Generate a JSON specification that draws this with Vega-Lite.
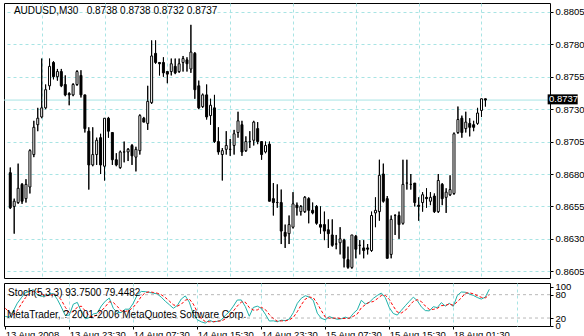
{
"$schema": "https://vega.github.io/schema/vega-lite/v6.json",
"padding": {"left": 2, "top": 2, "right": 0, "bottom": 0},
"autosize": {"type": "pad"},
"background": "white",
"spacing": 2,
"config": {"view": {"stroke": "black", "strokeWidth": 1}, "font": "Liberation Sans", "axis": {"labelFont": "Liberation Sans", "labelFontSize": 9.5, "labelColor": "black", "tickColor": "black", "labelOverlap": false}},
"data": {"values": [
{"i":0,"o":0.8681,"h":0.8685,"l":0.8653,"c":0.8654,"s":24,"g":45},
{"i":1,"o":0.8655,"h":0.8661,"l":0.8634,"c":0.8659,"s":22,"g":35},
{"i":2,"o":0.8658,"h":0.8688,"l":0.8657,"c":0.8669,"s":38,"g":28},
{"i":3,"o":0.8672,"h":0.8673,"l":0.8657,"c":0.8659,"s":58,"g":39.3},
{"i":4,"o":0.8661,"h":0.8676,"l":0.8658,"c":0.8672,"s":72,"g":56},
{"i":5,"o":0.8670,"h":0.8699,"l":0.8665,"c":0.8698,"s":85,"g":71.7},
{"i":6,"o":0.8695,"h":0.8721,"l":0.8693,"c":0.8716,"s":88,"g":81.7},
{"i":7,"o":0.8718,"h":0.8731,"l":0.8713,"c":0.8723,"s":93.1,"g":88.7},
{"i":8,"o":0.8724,"h":0.8769,"l":0.8723,"c":0.8731,"s":79.5,"g":86.9},
{"i":9,"o":0.8731,"h":0.8749,"l":0.8730,"c":0.8745,"s":75.8,"g":82.8},
{"i":10,"o":0.8748,"h":0.8769,"l":0.8745,"c":0.8763,"s":76.6,"g":77.3},
{"i":11,"o":0.8766,"h":0.8767,"l":0.8753,"c":0.8755,"s":81.4,"g":77.9},
{"i":12,"o":0.8755,"h":0.8761,"l":0.8752,"c":0.8759,"s":83.1,"g":80.4},
{"i":13,"o":0.8759,"h":0.8761,"l":0.8747,"c":0.8748,"s":68.1,"g":77.5},
{"i":14,"o":0.8749,"h":0.8756,"l":0.8740,"c":0.8741,"s":48.2,"g":66.5},
{"i":15,"o":0.8742,"h":0.8743,"l":0.8733,"c":0.8741,"s":26.5,"g":47.6},
{"i":16,"o":0.8741,"h":0.8750,"l":0.8740,"c":0.8749,"s":27.5,"g":34.1},
{"i":17,"o":0.8749,"h":0.8760,"l":0.8748,"c":0.8759,"s":55.6,"g":36.5},
{"i":18,"o":0.8756,"h":0.8760,"l":0.8739,"c":0.8741,"s":60.2,"g":47.8},
{"i":19,"o":0.8741,"h":0.8741,"l":0.8712,"c":0.8715,"s":35.9,"g":50.6},
{"i":20,"o":0.8713,"h":0.8716,"l":0.8668,"c":0.8687,"s":18,"g":38},
{"i":21,"o":0.8687,"h":0.8716,"l":0.8686,"c":0.8695,"s":21.1,"g":25},
{"i":22,"o":0.8695,"h":0.8708,"l":0.8687,"c":0.8706,"s":30.4,"g":23.2},
{"i":23,"o":0.8708,"h":0.8711,"l":0.8680,"c":0.8687,"s":32.7,"g":28.1},
{"i":24,"o":0.8686,"h":0.8723,"l":0.8675,"c":0.8723,"s":50.9,"g":38},
{"i":25,"o":0.8723,"h":0.8724,"l":0.8708,"c":0.8713,"s":63.3,"g":49},
{"i":26,"o":0.8712,"h":0.8712,"l":0.8687,"c":0.8691,"s":71.2,"g":61.8},
{"i":27,"o":0.8691,"h":0.8696,"l":0.8686,"c":0.8687,"s":44.9,"g":59.8},
{"i":28,"o":0.8685,"h":0.8698,"l":0.8684,"c":0.8697,"s":34,"g":50},
{"i":29,"o":0.8697,"h":0.8705,"l":0.8689,"c":0.8697,"s":34.1,"g":37.7},
{"i":30,"o":0.8697,"h":0.8700,"l":0.8690,"c":0.8699,"s":42.7,"g":36.9},
{"i":31,"o":0.8702,"h":0.8703,"l":0.8687,"c":0.8694,"s":42.7,"g":39.8},
{"i":32,"o":0.8693,"h":0.8701,"l":0.8682,"c":0.8699,"s":58.3,"g":47.9},
{"i":33,"o":0.8698,"h":0.8726,"l":0.8695,"c":0.8725,"s":79.5,"g":60.2},
{"i":34,"o":0.8723,"h":0.8724,"l":0.8720,"c":0.8720,"s":88.3,"g":75.4},
{"i":35,"o":0.8719,"h":0.8748,"l":0.8714,"c":0.8736,"s":87.7,"g":85.2},
{"i":36,"o":0.8735,"h":0.8783,"l":0.8734,"c":0.8771,"s":85.8,"g":87.3},
{"i":37,"o":0.8773,"h":0.8783,"l":0.8765,"c":0.8766,"s":83.9,"g":85.8},
{"i":38,"o":0.8766,"h":0.8766,"l":0.8756,"c":0.8765,"s":81.8,"g":83.8},
{"i":39,"o":0.8766,"h":0.8770,"l":0.8755,"c":0.8758,"s":73.5,"g":79.7},
{"i":40,"o":0.8759,"h":0.8759,"l":0.8750,"c":0.8757,"s":63.1,"g":72.8},
{"i":41,"o":0.8759,"h":0.8769,"l":0.8756,"c":0.8765,"s":54.3,"g":63.6},
{"i":42,"o":0.8763,"h":0.8769,"l":0.8757,"c":0.8758,"s":45.1,"g":54.2},
{"i":43,"o":0.8759,"h":0.8769,"l":0.8758,"c":0.8765,"s":52.1,"g":50.5},
{"i":44,"o":0.8766,"h":0.8771,"l":0.8759,"c":0.8769,"s":68.9,"g":55.4},
{"i":45,"o":0.8768,"h":0.8770,"l":0.8759,"c":0.8765,"s":76.8,"g":65.9},
{"i":46,"o":0.8761,"h":0.8795,"l":0.8758,"c":0.8774,"s":60.8,"g":68.8},
{"i":47,"o":0.8773,"h":0.8774,"l":0.8738,"c":0.8745,"s":30,"g":55.9},
{"i":48,"o":0.8748,"h":0.8752,"l":0.8730,"c":0.8731,"s":15.6,"g":35.5},
{"i":49,"o":0.8732,"h":0.8742,"l":0.8731,"c":0.8741,"s":10.2,"g":18.6},
{"i":50,"o":0.8741,"h":0.8749,"l":0.8722,"c":0.8724,"s":6.9,"g":10.9},
{"i":51,"o":0.8725,"h":0.8738,"l":0.8718,"c":0.8733,"s":14.4,"g":10.5},
{"i":52,"o":0.8731,"h":0.8741,"l":0.8704,"c":0.8705,"s":10.2,"g":10.5},
{"i":53,"o":0.8705,"h":0.8716,"l":0.8695,"c":0.8697,"s":11.4,"g":12},
{"i":54,"o":0.8695,"h":0.8700,"l":0.8675,"c":0.8698,"s":14.8,"g":12.1},
{"i":55,"o":0.8699,"h":0.8713,"l":0.8695,"c":0.8702,"s":26.8,"g":17.7},
{"i":56,"o":0.8699,"h":0.8707,"l":0.8694,"c":0.8699,"s":35.9,"g":25.8},
{"i":57,"o":0.8702,"h":0.8714,"l":0.8695,"c":0.8711,"s":50.3,"g":37.7},
{"i":58,"o":0.8712,"h":0.8728,"l":0.8708,"c":0.8721,"s":66.3,"g":50.8},
{"i":59,"o":0.8718,"h":0.8721,"l":0.8694,"c":0.8697,"s":66.4,"g":61},
{"i":60,"o":0.8698,"h":0.8709,"l":0.8697,"c":0.8705,"s":49.6,"g":60.8},
{"i":61,"o":0.8705,"h":0.8713,"l":0.8700,"c":0.8705,"s":24.5,"g":46.8},
{"i":62,"o":0.8706,"h":0.8721,"l":0.8702,"c":0.8720,"s":47.1,"g":40.4},
{"i":63,"o":0.8715,"h":0.8720,"l":0.8703,"c":0.8705,"s":50.5,"g":40.7},
{"i":64,"o":0.8705,"h":0.8705,"l":0.8691,"c":0.8695,"s":45.1,"g":47.6},
{"i":65,"o":0.8697,"h":0.8705,"l":0.8696,"c":0.8702,"s":29.9,"g":41.8},
{"i":66,"o":0.8703,"h":0.8705,"l":0.8659,"c":0.8659,"s":12.3,"g":29.1},
{"i":67,"o":0.8661,"h":0.8673,"l":0.8648,"c":0.8658,"s":12.8,"g":18.3},
{"i":68,"o":0.8658,"h":0.8672,"l":0.8654,"c":0.8658,"s":10.5,"g":11.9},
{"i":69,"o":0.8658,"h":0.8668,"l":0.8626,"c":0.8636,"s":14.4,"g":12.6},
{"i":70,"o":0.8635,"h":0.8641,"l":0.8623,"c":0.8632,"s":13.3,"g":12.7},
{"i":71,"o":0.8634,"h":0.8648,"l":0.8626,"c":0.8641,"s":17.5,"g":15.1},
{"i":72,"o":0.8639,"h":0.8666,"l":0.8638,"c":0.8657,"s":33.7,"g":21.5},
{"i":73,"o":0.8656,"h":0.8658,"l":0.8648,"c":0.8654,"s":57.6,"g":36.3},
{"i":74,"o":0.8651,"h":0.8656,"l":0.8648,"c":0.8655,"s":70.8,"g":54},
{"i":75,"o":0.8651,"h":0.8663,"l":0.8650,"c":0.8662,"s":77.3,"g":68.6},
{"i":76,"o":0.8661,"h":0.8662,"l":0.8642,"c":0.8652,"s":73.9,"g":74},
{"i":77,"o":0.8652,"h":0.8658,"l":0.8649,"c":0.8650,"s":65.2,"g":72.1},
{"i":78,"o":0.8655,"h":0.8656,"l":0.8641,"c":0.8642,"s":32.4,"g":57.2},
{"i":79,"o":0.8641,"h":0.8655,"l":0.8634,"c":0.8639,"s":19.4,"g":39},
{"i":80,"o":0.8641,"h":0.8651,"l":0.8629,"c":0.8636,"s":15.5,"g":22.4},
{"i":81,"o":0.8637,"h":0.8645,"l":0.8623,"c":0.8634,"s":23.7,"g":19.5},
{"i":82,"o":0.8633,"h":0.8645,"l":0.8624,"c":0.8625,"s":19.8,"g":19.7},
{"i":83,"o":0.8626,"h":0.8633,"l":0.8622,"c":0.8626,"s":16.8,"g":20.1},
{"i":84,"o":0.8627,"h":0.8639,"l":0.8618,"c":0.8630,"s":18.2,"g":18.3},
{"i":85,"o":0.8629,"h":0.8630,"l":0.8608,"c":0.8615,"s":22.3,"g":19.1},
{"i":86,"o":0.8614,"h":0.8624,"l":0.8607,"c":0.8608,"s":18.5,"g":19.7},
{"i":87,"o":0.8608,"h":0.8633,"l":0.8607,"c":0.8633,"s":31.8,"g":24.2},
{"i":88,"o":0.8632,"h":0.8633,"l":0.8615,"c":0.8622,"s":41.2,"g":30.5},
{"i":89,"o":0.8625,"h":0.8629,"l":0.8618,"c":0.8625,"s":65.6,"g":46.2},
{"i":90,"o":0.8623,"h":0.8629,"l":0.8615,"c":0.8621,"s":56,"g":54.3},
{"i":91,"o":0.8623,"h":0.8626,"l":0.8618,"c":0.8622,"s":60.3,"g":60.6},
{"i":92,"o":0.8621,"h":0.8651,"l":0.8620,"c":0.8648,"s":70.5,"g":62.3},
{"i":93,"o":0.8650,"h":0.8662,"l":0.8639,"c":0.8652,"s":78,"g":69.6},
{"i":94,"o":0.8651,"h":0.8691,"l":0.8644,"c":0.8679,"s":84.3,"g":77.6},
{"i":95,"o":0.8680,"h":0.8688,"l":0.8658,"c":0.8659,"s":72.4,"g":78.2},
{"i":96,"o":0.8661,"h":0.8663,"l":0.8615,"c":0.8615,"s":46.7,"g":67.8},
{"i":97,"o":0.8618,"h":0.8648,"l":0.8615,"c":0.8645,"s":31.6,"g":50.2},
{"i":98,"o":0.8648,"h":0.8649,"l":0.8633,"c":0.8648,"s":27.6,"g":35.3},
{"i":99,"o":0.8648,"h":0.8651,"l":0.8630,"c":0.8641,"s":39.6,"g":32.9},
{"i":100,"o":0.8642,"h":0.8691,"l":0.8641,"c":0.8672,"s":51.6,"g":39.6},
{"i":101,"o":0.8673,"h":0.8691,"l":0.8668,"c":0.8673,"s":62.7,"g":51.3},
{"i":102,"o":0.8672,"h":0.8680,"l":0.8668,"c":0.8672,"s":73.7,"g":62.7},
{"i":103,"o":0.8673,"h":0.8673,"l":0.8655,"c":0.8658,"s":64.6,"g":67},
{"i":104,"o":0.8656,"h":0.8662,"l":0.8644,"c":0.8655,"s":48.8,"g":62.4},
{"i":105,"o":0.8658,"h":0.8666,"l":0.8651,"c":0.8664,"s":39.2,"g":50.9},
{"i":106,"o":0.8662,"h":0.8669,"l":0.8654,"c":0.8661,"s":38.3,"g":42.1},
{"i":107,"o":0.8659,"h":0.8666,"l":0.8656,"c":0.8662,"s":49.1,"g":42.2},
{"i":108,"o":0.8663,"h":0.8665,"l":0.8650,"c":0.8651,"s":46.7,"g":44.7},
{"i":109,"o":0.8651,"h":0.8680,"l":0.8650,"c":0.8675,"s":59.5,"g":51.8},
{"i":110,"o":0.8672,"h":0.8673,"l":0.8656,"c":0.8661,"s":50.6,"g":52.3},
{"i":111,"o":0.8662,"h":0.8669,"l":0.8650,"c":0.8666,"s":57.8,"g":56},
{"i":112,"o":0.8664,"h":0.8679,"l":0.8663,"c":0.8668,"s":50,"g":52.8},
{"i":113,"o":0.8665,"h":0.8712,"l":0.8664,"c":0.8711,"s":77.9,"g":61.9},
{"i":114,"o":0.8712,"h":0.8732,"l":0.8711,"c":0.8722,"s":86.8,"g":71.6},
{"i":115,"o":0.8723,"h":0.8725,"l":0.8708,"c":0.8712,"s":86.3,"g":83.7},
{"i":116,"o":0.8715,"h":0.8728,"l":0.8712,"c":0.8720,"s":82,"g":85},
{"i":117,"o":0.8719,"h":0.8723,"l":0.8709,"c":0.8716,"s":78.1,"g":82.1},
{"i":118,"o":0.8718,"h":0.8721,"l":0.8713,"c":0.8716,"s":72.7,"g":77.6},
{"i":119,"o":0.8719,"h":0.8731,"l":0.8718,"c":0.8727,"s":68.7,"g":73.2},
{"i":120,"o":0.8729,"h":0.8738,"l":0.8724,"c":0.8738,"s":73.7,"g":71.7},
{"i":121,"o":0.8738,"h":0.8738,"l":0.8732,"c":0.8737,"s":93.75,"g":79.4482}
]},
"vconcat": [
{
"width": 546, "height": 275,
"layer": [
{"mark": {"type": "rule", "color": "black", "strokeWidth": 1},
 "encoding": {
  "x": {"field": "i", "type": "quantitative", "scale": {"domain": [-0.325, 136.175], "nice": false, "zero": false},
        "axis": {"values": [8,16,24,32,40,48,56,64,72,80,88,96,104,112,120,128], "grid": true, "gridColor": "#a8e4e4", "gridDash": [3,3], "labels": false, "ticks": false, "domain": false, "title": null}},
  "y": {"field": "l", "type": "quantitative", "scale": {"domain": [0.859982, 0.881184], "nice": false, "zero": false},
        "axis": {"orient": "right", "values": [0.8605,0.863,0.8655,0.868,0.8705,0.873,0.8755,0.878,0.8805], "format": ".4f", "grid": true, "gridColor": "#a8e4e4", "gridDash": [3,3], "tickSize": 3, "labelPadding": 2, "labelOverlap": false, "labelBound": false, "labelFontSize": 9.5, "domain": false, "title": null}},
  "y2": {"field": "h"}
 }},
{"data": {"values": [{"p": 0.8737}]}, "mark": {"type": "rule", "color": "#a8e4e4", "strokeWidth": 1},
 "encoding": {"y": {"field": "p", "type": "quantitative", "axis": {"orient": "right", "values": [0.8605,0.863,0.8655,0.868,0.8705,0.873,0.8755,0.878,0.8805], "format": ".4f", "grid": true, "gridColor": "#a8e4e4", "gridDash": [3,3], "tickSize": 3, "labelPadding": 2, "labelOverlap": false, "labelBound": false, "labelFontSize": 9.5, "domain": false, "title": null}}}},
{"mark": {"type": "rule", "color": "black", "strokeWidth": 1},
 "encoding": {"x": {"field": "i", "type": "quantitative"}, "y": {"field": "l", "type": "quantitative", "axis": {"orient": "right", "values": [0.8605,0.863,0.8655,0.868,0.8705,0.873,0.8755,0.878,0.8805], "format": ".4f", "grid": true, "gridColor": "#a8e4e4", "gridDash": [3,3], "tickSize": 3, "labelPadding": 2, "labelOverlap": false, "labelBound": false, "labelFontSize": 9.5, "domain": false, "title": null}}, "y2": {"field": "h"}}},
{"mark": {"type": "bar", "width": 2, "stroke": "black", "strokeWidth": 1},
 "encoding": {
  "x": {"field": "i", "type": "quantitative"},
  "y": {"field": "o", "type": "quantitative", "axis": {"orient": "right", "values": [0.8605,0.863,0.8655,0.868,0.8705,0.873,0.8755,0.878,0.8805], "format": ".4f", "grid": true, "gridColor": "#a8e4e4", "gridDash": [3,3], "tickSize": 3, "labelPadding": 2, "labelOverlap": false, "labelBound": false, "labelFontSize": 9.5, "domain": false, "title": null}},
  "y2": {"field": "c"},
  "fill": {"condition": {"test": "datum.c < datum.o", "value": "black"}, "value": "white"}
 }},
{"data": {"values": [{"t": "AUDUSD,M30\u00a0\u00a0 0.8738 0.8738 0.8732 0.8737", "x": 0.925, "y": 0.88053}]},
 "mark": {"type": "text", "align": "left", "baseline": "middle", "fontSize": 10, "color": "black"},
 "encoding": {"x": {"field": "x", "type": "quantitative"}, "y": {"field": "y", "type": "quantitative", "axis": {"orient": "right", "values": [0.8605,0.863,0.8655,0.868,0.8705,0.873,0.8755,0.878,0.8805], "format": ".4f", "grid": true, "gridColor": "#a8e4e4", "gridDash": [3,3], "tickSize": 3, "labelPadding": 2, "labelOverlap": false, "labelBound": false, "labelFontSize": 9.5, "domain": false, "title": null}}, "text": {"field": "t"}}},
{"data": {"values": [{"x": 136.85, "x2": 144.5, "y": 0.87414, "y2": 0.87337}]},
 "mark": {"type": "rect", "color": "black"},
 "encoding": {"x": {"field": "x", "type": "quantitative"}, "x2": {"field": "x2"}, "y": {"field": "y", "type": "quantitative", "axis": {"orient": "right", "values": [0.8605,0.863,0.8655,0.868,0.8705,0.873,0.8755,0.878,0.8805], "format": ".4f", "grid": true, "gridColor": "#a8e4e4", "gridDash": [3,3], "tickSize": 3, "labelPadding": 2, "labelOverlap": false, "labelBound": false, "labelFontSize": 9.5, "domain": false, "title": null}}, "y2": {"field": "y2"}}},
{"data": {"values": [{"t": "0.8737", "x": 137.2, "y": 0.87375}]},
 "mark": {"type": "text", "align": "left", "baseline": "middle", "fontSize": 9.5, "color": "white"},
 "encoding": {"x": {"field": "x", "type": "quantitative"}, "y": {"field": "y", "type": "quantitative", "axis": {"orient": "right", "values": [0.8605,0.863,0.8655,0.868,0.8705,0.873,0.8755,0.878,0.8805], "format": ".4f", "grid": true, "gridColor": "#a8e4e4", "gridDash": [3,3], "tickSize": 3, "labelPadding": 2, "labelOverlap": false, "labelBound": false, "labelFontSize": 9.5, "domain": false, "title": null}}, "text": {"field": "t"}}}
]
},
{
"width": 546, "height": 43,
"layer": [
{"data": {"values": [{"v": 20}, {"v": 80}]}, "mark": {"type": "rule", "color": "#b8b8b8", "strokeDash": [3,3]},
 "encoding": {"y": {"field": "v", "type": "quantitative", "scale": {"domain": [-0.5, 110], "nice": false, "zero": false}, "axis": {"orient": "right", "values": [0, 20, 80, 100], "grid": false, "tickSize": 3, "labelPadding": 2, "labelOverlap": false, "labelBound": false, "labelFontSize": 9.5, "domain": false, "title": null}}}},
{"mark": {"type": "line", "color": "#20b2aa", "strokeWidth": 1},
 "encoding": {
  "x": {"field": "i", "type": "quantitative", "scale": {"domain": [-0.325, 136.175], "nice": false, "zero": false},
        "axis": {"values": [0,8,16,24,32,40,48,56,64,72,80,88,96,104,112,120,128], "grid": true, "gridColor": {"condition": {"test": "datum.value == 0", "value": "transparent"}, "value": "#a8e4e4"}, "gridDash": [3,3], "domain": false, "title": null, "tickSize": 3, "labelPadding": 0, "labelAlign": "left", "labelBound": false, "labelOverlap": false, "labelFlush": false, "labelFontSize": 9.5,
                 "tickColor": {"condition": {"test": "datum.value % 16 == 0 && datum.value <= 112", "value": "black"}, "value": "transparent"},
                 "labelExpr": "(datum.value % 16 == 0 && datum.value <= 112) ? ['13 Aug 2008','13 Aug 23:30','14 Aug 07:30','14 Aug 15:30','14 Aug 23:30','15 Aug 07:30','15 Aug 15:30','18 Aug 01:30'][datum.value / 16] : ''"}},
  "y": {"field": "s", "type": "quantitative", "axis": {"orient": "right", "values": [0, 20, 80, 100], "grid": false, "tickSize": 3, "labelPadding": 2, "labelOverlap": false, "labelBound": false, "labelFontSize": 9.5, "domain": false, "title": null}}
 }},
{"mark": {"type": "line", "color": "#ff0000", "strokeWidth": 1, "strokeDash": [3,2]},
 "encoding": {"x": {"field": "i", "type": "quantitative"}, "y": {"field": "g", "type": "quantitative", "axis": {"orient": "right", "values": [0, 20, 80, 100], "grid": false, "tickSize": 3, "labelPadding": 2, "labelOverlap": false, "labelBound": false, "labelFontSize": 9.5, "domain": false, "title": null}}}},
{"data": {"values": [{"t": "Stoch(5,3,3) 93.7500 79.4482", "x": 0.675, "y": 84.3}, {"t": "MetaTrader, ? 2001-2006 MetaQuotes Software Corp.", "x": 0.425, "y": 29}]},
 "mark": {"type": "text", "align": "left", "baseline": "middle", "fontSize": 10, "color": "black"},
 "encoding": {"x": {"field": "x", "type": "quantitative"}, "y": {"field": "y", "type": "quantitative", "axis": {"orient": "right", "values": [0, 20, 80, 100], "grid": false, "tickSize": 3, "labelPadding": 2, "labelOverlap": false, "labelBound": false, "labelFontSize": 9.5, "domain": false, "title": null}}, "text": {"field": "t"}}}
]
}
]
}
